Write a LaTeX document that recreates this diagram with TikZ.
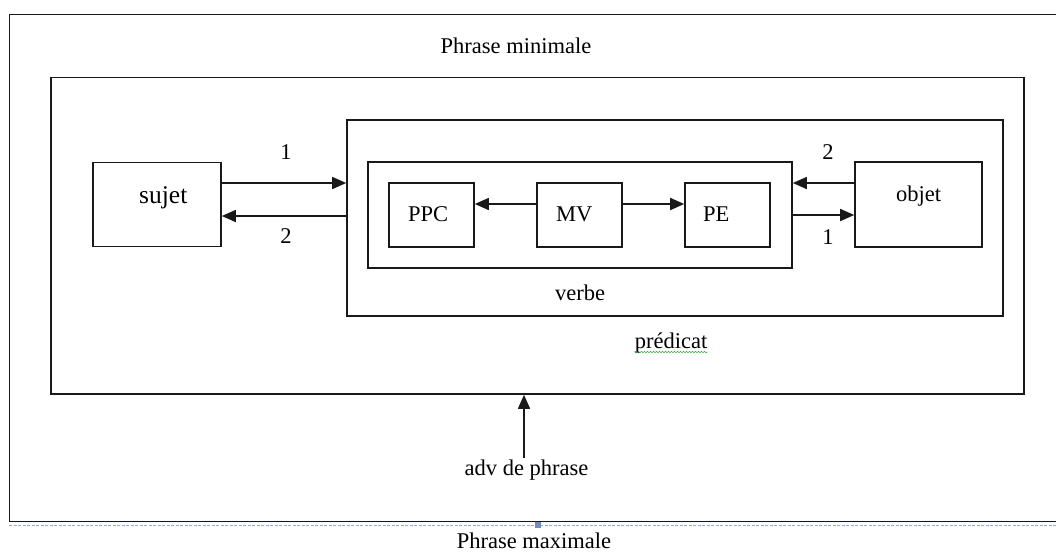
\documentclass[tikz,border=0pt]{standalone}
\usepackage{fontspec}
\setmainfont{Liberation Serif}
\usetikzlibrary{arrows.meta,decorations.pathmorphing}
\definecolor{lineblk}{RGB}{25,25,25}
\definecolor{selblue}{RGB}{150,170,205}
\definecolor{handle}{RGB}{115,140,185}
\definecolor{spell}{RGB}{60,170,60}
\begin{document}
\begin{tikzpicture}[x=1pt,y=-1pt,
  box/.style={draw=lineblk,line width=1.6pt,inner sep=0pt},
  txt/.style={inner sep=0pt,font=\fontsize{22.5}{27}\selectfont},
  arr/.style={draw=lineblk,line width=1.6pt,-{Triangle[length=14pt,width=12pt]}}]
\useasboundingbox (0,0) rectangle (1056,552);
% outer frame (phrase maximale)
\draw[lineblk,line width=1.6pt] (1058,14.5) -- (9.5,14.5) -- (9.5,521.5) -- (1058,521.5);
\draw[selblue,line width=1pt,dash pattern=on 3pt off 1.5pt] (9,525.5) -- (1056,525.5);
\fill[handle] (535,521.5) rectangle (541,527.5);
% boxes
\node[box,minimum width=973pt,minimum height=316.5pt] (mini) at (537.5,235.75) {};
\node[box,minimum width=656pt,minimum height=196pt] (pred) at (675,218) {};
\node[box,minimum width=424pt,minimum height=106pt] (verbe) at (580,215) {};
\node[box,minimum width=85pt,minimum height=64pt] (ppc) at (431.5,215) {};
\node[box,minimum width=85pt,minimum height=64pt] (mv) at (579.5,215) {};
\node[box,minimum width=85pt,minimum height=64pt] (pe) at (727.5,215) {};
\node[box,minimum width=128pt,minimum height=84pt] (sujet) at (157,204.5) {};
\node[box,minimum width=127pt,minimum height=85pt] (objet) at (918.5,204.5) {};
% texts
\node[txt,anchor=base] (tmin) at (516,53) {Phrase minimale};
\node[txt,anchor=base] (tmax) at (534,548) {Phrase maximale};
\node[txt,anchor=base] (tverbe) at (580,300) {verbe};
\node[txt,anchor=base] (tpred) at (671,348) {prédicat};
\node[txt,anchor=base] (tadv) at (526.5,475) {adv de phrase};
\node[txt,anchor=base west] (tppc) at (408,221.5) {PPC};
\node[txt,anchor=base west] (tmv) at (556,221.5) {MV};
\node[txt,anchor=base west] (tpe) at (703,221.5) {PE};
\node[txt,anchor=base west,font=\fontsize{25.5}{30}\selectfont] (tsujet) at (139,203) {sujet};
\node[txt,anchor=base west] (tobjet) at (896,201) {objet};
\node[txt,anchor=base] (l1a) at (286,159) {1};
\node[txt,anchor=base] (l2a) at (286,243) {2};
\node[txt,anchor=base] (l2b) at (828,159) {2};
\node[txt,anchor=base] (l1b) at (828,244) {1};
% spelling squiggle
\draw[spell,line width=0.6pt,decorate,decoration={snake,amplitude=0.8pt,segment length=3pt}]
  ([yshift=-4pt]tpred.base west) -- ([yshift=-4pt]tpred.base east);
% connectors
\draw[arr] ([yshift=21.5pt]sujet.east) coordinate (s1) -- (s1 -| pred.west);
\path ([yshift=-11.5pt]sujet.east) coordinate (s2);
\draw[arr] (s2 -| pred.west) -- (s2);
\draw[arr] ([yshift=21.5pt]objet.west) coordinate (o2) -- (o2 -| verbe.east);
\draw[arr] (verbe.east) -- (verbe.east -| objet.west);
\draw[arr] ([yshift=11pt]mv.west) -- ([yshift=11pt]ppc.east);
\draw[arr] ([yshift=11pt]mv.east) -- ([yshift=11pt]pe.west);
\coordinate (advt) at (524,458);
\draw[arr] (advt) -- (advt |- mini.south);
\end{tikzpicture}
\end{document}
